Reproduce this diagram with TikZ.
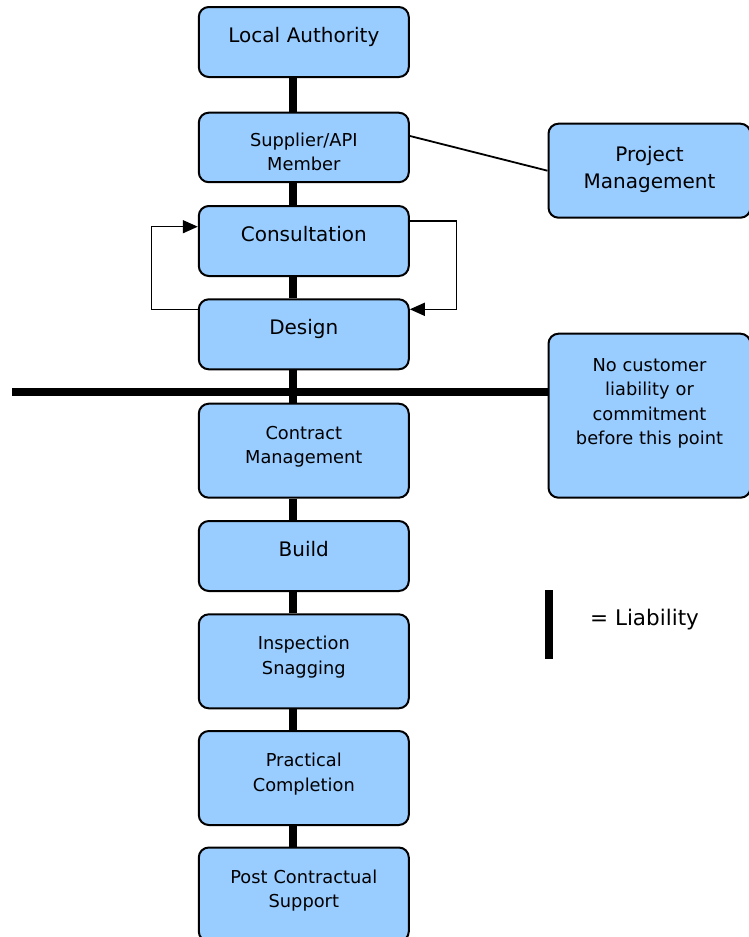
\documentclass[tikz,border=0pt]{standalone}
\usepackage{fontspec}
\setmainfont{DejaVu Sans}
\usepackage{xcolor}
\usepackage{tikz}
\usetikzlibrary{
	arrows.meta,
	positioning
}
\definecolor{BoxBlue}{RGB}{153,204,255}
\newcommand{\bigtxt}{\fontsize{20}{27}\selectfont}
\newcommand{\smalltxt}{\fontsize{17.8}{24.5}\selectfont}

\begin{document}
\begin{tikzpicture}[x=1pt, y=-1pt,
		stage/.style={draw, line width=2pt, fill=BoxBlue, rounded corners=10pt, anchor=north,
			align=center, text width=210pt, inner xsep=0pt, inner ysep=0pt},
		short/.style={text height=35.5pt, text depth=34.5pt, font=\bigtxt},
		tall/.style={text height=35.5pt, text depth=58.5pt, font=\smalltxt},
		liab/.style={line width=8pt},
		loopback/.style={line width=1.5pt, -{Triangle[length=15pt, width=13pt]}}]
			\useasboundingbox (0,0) rectangle (749,937);
			\clip (0,0) rectangle (749,937);
			\node[stage, short] (la) at (303.8,6) {Local Authority};
			\node[stage, short, font=\smalltxt, text height=33.5pt, text depth=36pt] (sup) at (303.8,111.7) {Supplier/API\\Member};
			\node[stage, short] (cons) at (303.8,205) {Consultation};
			\node[stage, short] (des) at (303.8,298.3) {Design};
			\node[stage, tall] (cm) at (303.8,402.7) {Contract\\Management};
			\node[stage, short] (bld) at (303.8,520) {Build};
			\node[stage, tall] (ins) at (303.8,613.3) {Inspection\\Snagging};
			\node[stage, tall] (pc) at (303.8,730) {Practical\\Completion};
			\node[stage, tall] (pcs) at (303.8,846.5) {Post Contractual\\Support};
			\node[stage, font=\bigtxt, text width=202pt, text height=37.5pt, text depth=56.5pt] (pm) at (649.5,122.7) {Project\\Management};
			\node[stage, font=\smalltxt, text width=202pt, text height=37.5pt, text depth=126.5pt] (nc) at (649.5,332.7) {No customer\\liability or\\commitment\\before this point};
			\foreach \a/\b in {la/sup, sup/cons, cons/des, des/cm, cm/bld, bld/ins, ins/pc, pc/pcs}
				\draw[liab] ([xshift=-11pt]\a.south) -- ([xshift=-11pt]\b.north);
			\coordinate (cut) at (12,391.5);
			\draw[liab] (cut) -- (cut -| nc.west);
			\draw[line width=1.8pt] ([yshift=11.5pt]sup.east) -- (pm.west);
			\draw[loopback] ([yshift=-16pt]cons.north east) -- ++(46.9,0) |- ([yshift=-11pt]des.north east);
			\draw[loopback] ([yshift=-11pt]des.north west) -- ++(-46.5,0) |- ([yshift=-21.7pt]cons.north west);
			\coordinate (keytop) at (549,590);
			\coordinate (keybot) at (549,659.3);
			\draw[liab] (keytop) -- (keybot);
			\node[anchor=base west, font=\fontsize{21.5}{27}\selectfont, inner sep=0pt] (keytxt) at (590,625.5) {= Liability};
		\end{tikzpicture}
\end{document}
